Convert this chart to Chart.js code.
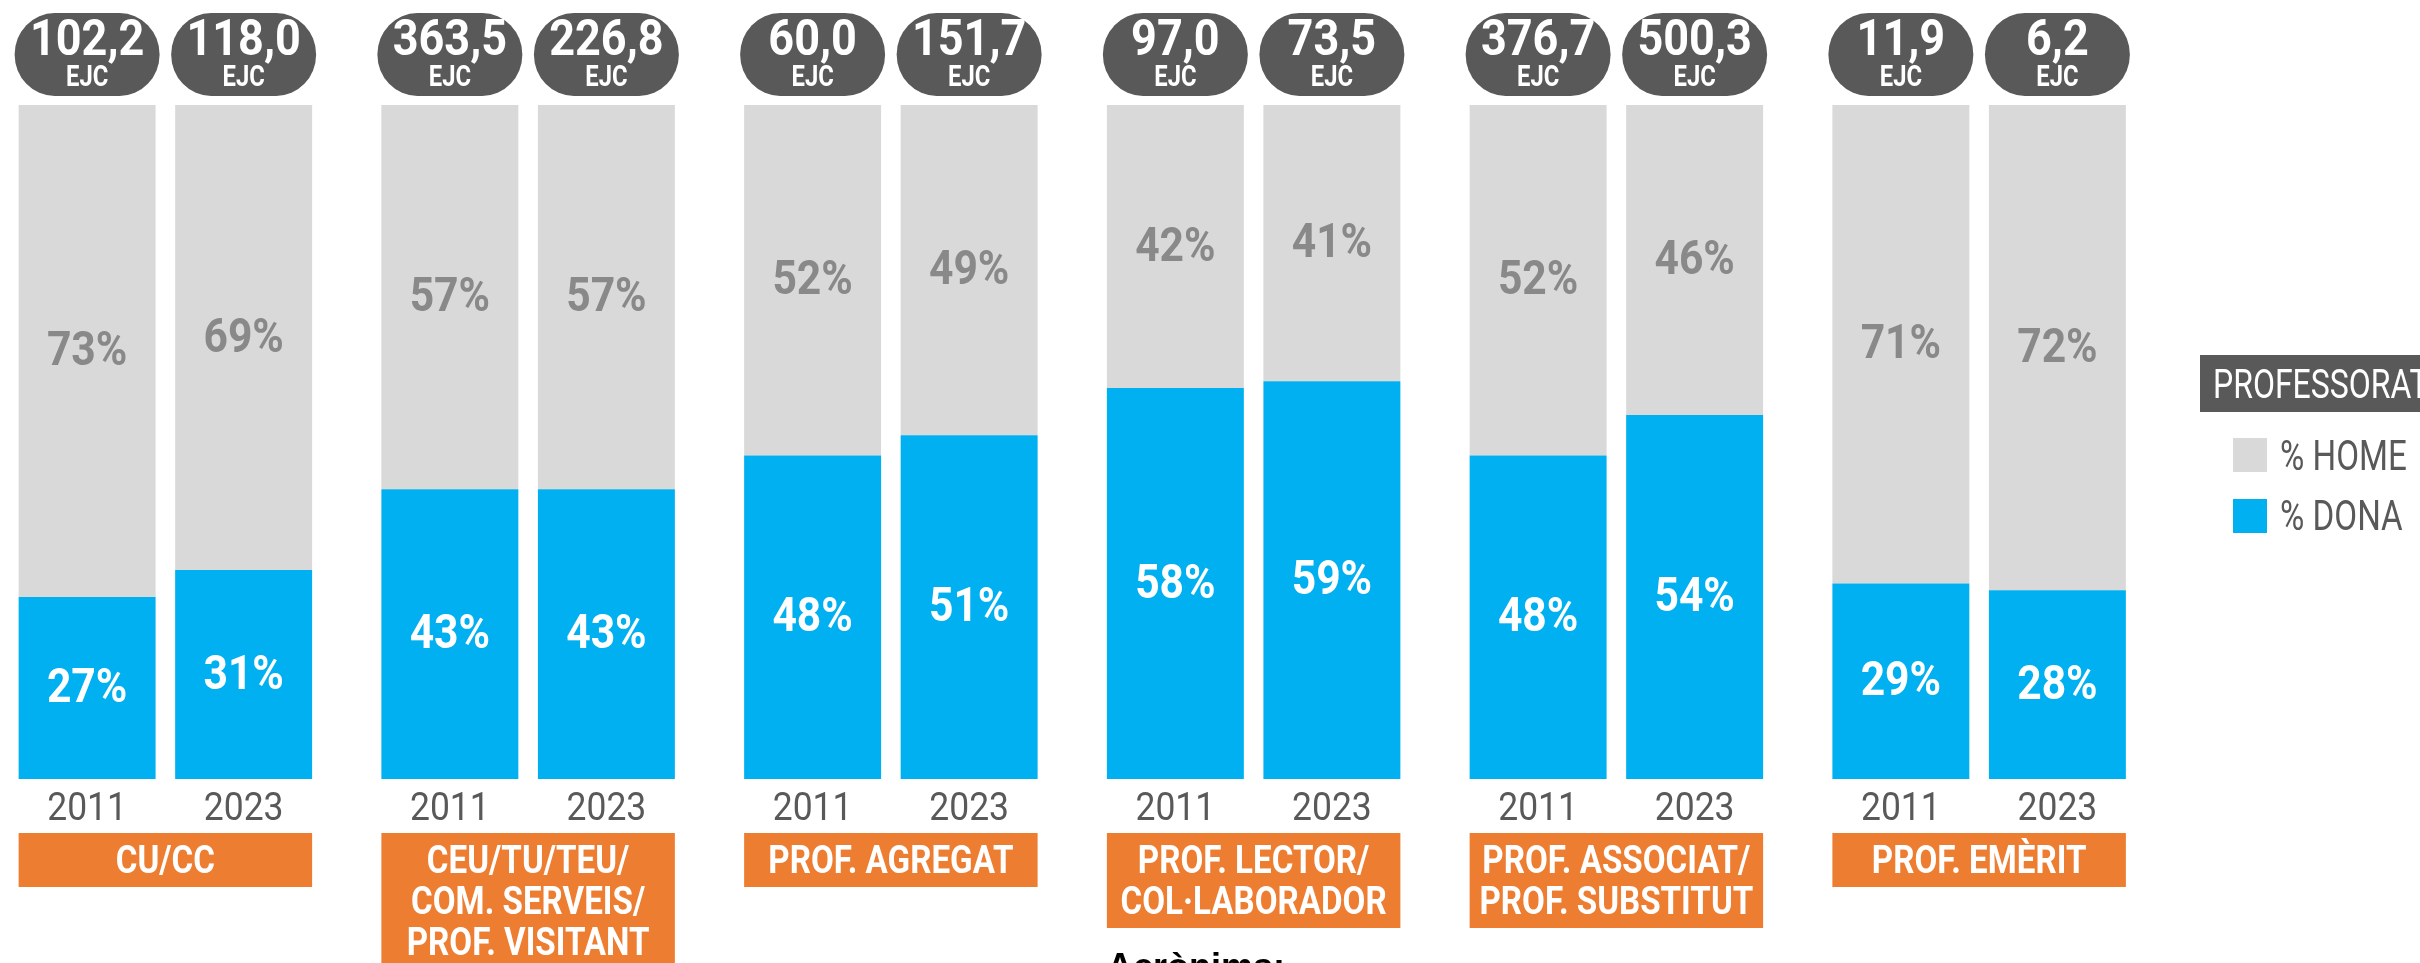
<!DOCTYPE html>
<html>
<head>
<meta charset="utf-8">
<script src="https://cdn.jsdelivr.net/npm/chart.js@4.4.1/dist/chart.umd.min.js"></script>
<style>
html, body { margin: 0; padding: 0; background: #fff; overflow: hidden; }
#wrap { position: absolute; left: -16px; top: 0; width: 2436px; height: 963px; }
</style>
</head>
<body>
<div id="wrap"><canvas id="chart" width="2436" height="963"></canvas></div>
<script>
// categories (multi-line labels)
var groups = [
    ["CU/CC"],
    ["CEU/TU/TEU/", "COM. SERVEIS/", "PROF. VISITANT"],
    ["PROF. AGREGAT"],
    ["PROF. LECTOR/", "COL·LABORADOR"],
    ["PROF. ASSOCIAT/", "PROF. SUBSTITUT"],
    ["PROF. EMÈRIT"]
];
var years = ["2011", "2023"];
var dona2011 = [27, 43, 48, 58, 48, 29];
var home2011 = [73, 57, 52, 42, 52, 71];
var dona2023 = [31, 43, 51, 59, 54, 28];
var home2023 = [69, 57, 49, 41, 46, 72];
var ejc2011 = [102.2, 363.5, 60.0, 97.0, 376.7, 11.9];
var ejc2023 = [118.0, 226.8, 151.7, 73.5, 500.3, 6.2];

var OFF = 16; // canvas is shifted 16px left of the page
var FONT = "Roboto, 'DejaVu Sans', sans-serif";
var DARK = "#595959";

function fmt(v)
{
    return v.toFixed(1).replace(".", ",");
}

// condensed text drawn on its baseline: squeeze horizontally since no condensed face is installed
function text(ctx, str, x, y, font, sx, align)
{
    ctx.save();
    ctx.font = font;
    ctx.textAlign = align || "center";
    ctx.textBaseline = "alphabetic";
    ctx.translate(x, y);
    ctx.scale(sx, 1);
    ctx.fillText(str, 0, 0);
    ctx.restore();
}

var decorPlugin = {
    id: "decor",
    afterDatasetsDraw: function (chart) {
        var ctx = chart.ctx;
        ctx.save();

        // percentage labels inside the segments
        chart.data.datasets.forEach(function (ds, i) {
            var meta = chart.getDatasetMeta(i);
            meta.data.forEach(function (bar, j) {
                ctx.fillStyle = ds.labelColor;
                text(ctx, ds.data[j] + "%", bar.x, (bar.y + bar.base) / 2 + 14, "bold 49px " + FONT, 0.87);
            });
        });

        // EJC bubbles and year labels
        [0, 2].forEach(function (i, k) {
            var meta = chart.getDatasetMeta(i);
            var ejc = k == 0 ? ejc2011 : ejc2023;
            meta.data.forEach(function (bar, j) {
                var w = bar.width + 8;
                ctx.fillStyle = DARK;
                ctx.beginPath();
                ctx.ellipse(bar.x - w / 2 + 40, 54.5, 40, 41.5, 0, Math.PI / 2, Math.PI * 1.5);
                ctx.ellipse(bar.x + w / 2 - 40, 54.5, 40, 41.5, 0, -Math.PI / 2, Math.PI / 2);
                ctx.closePath();
                ctx.fill();
                ctx.fillStyle = "#fff";
                text(ctx, fmt(ejc[j]), bar.x, 55, "bold 50px " + FONT, 0.9);
                text(ctx, "EJC", bar.x, 86, "bold 29px " + FONT, 0.82);
                ctx.fillStyle = DARK;
                text(ctx, years[k], bar.x, 820, "39px " + FONT, 0.91);
            });
        });

        // orange category boxes
        var m0 = chart.getDatasetMeta(0), m2 = chart.getDatasetMeta(2);
        chart.data.labels.forEach(function (lines, j) {
            var a = m0.data[j], b = m2.data[j];
            var left = a.x - a.width / 2, right = b.x + b.width / 2;
            ctx.fillStyle = "#ed7d31";
            ctx.fillRect(left, 833, right - left, 13 + 41 * lines.length);
            ctx.fillStyle = "#fff";
            lines.forEach(function (t, l) {
                text(ctx, t, (left + right) / 2, 873 + 41 * l, "bold 39px " + FONT, 0.85);
            });
        });

        // legend
        ctx.fillStyle = DARK;
        ctx.fillRect(2200 + OFF, 355, 240, 57);
        ctx.fillStyle = "#fff";
        text(ctx, "PROFESSORAT", 2213 + OFF, 398, "40px " + FONT, 0.8, "left");
        [[chart.data.datasets[1], 438, 470], [chart.data.datasets[0], 499, 530]].forEach(function (it) {
            ctx.fillStyle = it[0].backgroundColor;
            ctx.fillRect(2233 + OFF, it[1], 34, 34);
            ctx.fillStyle = DARK;
            text(ctx, it[0].label, 2280 + OFF, it[2], "42px " + FONT, 0.79, "left");
        });

        // footnote heading (cut off at the bottom)
        ctx.fillStyle = "#000";
        ctx.textAlign = "left";
        ctx.textBaseline = "alphabetic";
        ctx.font = "bold 36px 'Liberation Sans', sans-serif";
        ctx.fillText("Acrònims:", 1107 + OFF, 979);
        ctx.restore();
    }
};

var chart = new Chart(document.getElementById("chart"), {
    type: "bar",
    data: {
        labels: groups,
        datasets: [
            { label: "% DONA", data: dona2011, stack: "2011", backgroundColor: "#00b0f0", labelColor: "#fff" },
            { label: "% HOME", data: home2011, stack: "2011", backgroundColor: "#d9d9d9", labelColor: "#898989" },
            { label: "% DONA", data: dona2023, stack: "2023", backgroundColor: "#00b0f0", labelColor: "#fff" },
            { label: "% HOME", data: home2023, stack: "2023", backgroundColor: "#d9d9d9", labelColor: "#898989" }
        ]
    },
    options: {
        responsive: false,
        animation: false,
        categoryPercentage: 0.863,
        barPercentage: 0.875,
        layout: { padding: { left: 0, right: 259.5, top: 105, bottom: 184 } },
        scales: {
            x: { stacked: true, display: false },
            y: { stacked: true, display: false, min: 0, max: 100 }
        },
        plugins: {
            legend: { display: false },
            tooltip: { enabled: false }
        }
    },
    plugins: [decorPlugin]
});
</script>
</body>
</html>
